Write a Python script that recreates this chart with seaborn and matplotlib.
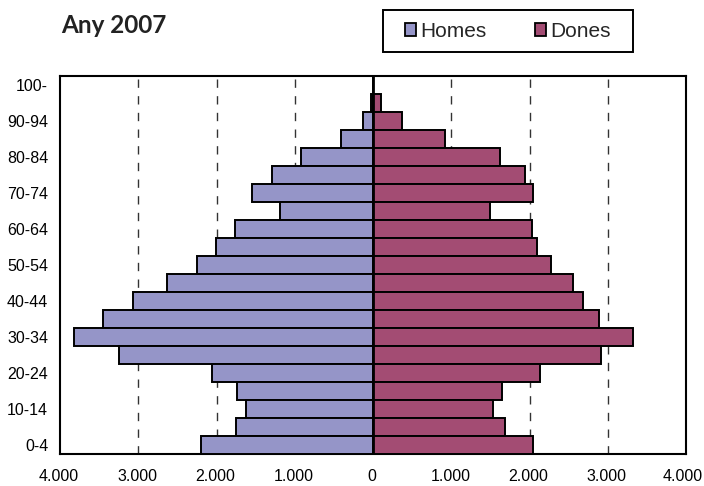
import matplotlib
matplotlib.use("Agg")
import matplotlib.pyplot as plt
import matplotlib.transforms as mtransforms
from matplotlib import font_manager as fm
import seaborn as sns
import pandas as pd
from matplotlib.patches import Patch, Rectangle
from matplotlib.ticker import FuncFormatter

ages = ["0-4", "5-9", "10-14", "15-19", "20-24", "25-29", "30-34", "35-39",
        "40-44", "45-49", "50-54", "55-59", "60-64", "65-69", "70-74",
        "75-79", "80-84", "85-89", "90-94", "95-99", "100-"]
homes = [2199, 1756, 1628, 1734, 2059, 3252, 3819, 3448, 3073, 2629, 2246,
         2003, 1765, 1184, 1542, 1286, 921, 409, 128, 30, 5]
dones = [2051, 1688, 1535, 1650, 2136, 2912, 3317, 2890, 2681, 2562, 2276,
         2093, 2029, 1496, 2042, 1940, 1624, 926, 371, 107, 5]
series = ["Homes", "Dones"]
title = "Any 2007"

df = pd.DataFrame({
    "age": ages * 2,
    "value": [-v for v in homes] + dones,
    "sex": ["Homes"] * len(ages) + ["Dones"] * len(ages),
})

sns.set_style("white")
plt.rcParams["font.family"] = ["Liberation Sans", "DejaVu Sans"]

# choose a bold humanist font file for the title (static bold face only)
title_prop = None
for cand, size in [("Source Sans Pro", 19), ("Source Sans 3", 19), ("Lato", 17.5),
                   ("Noto Sans", 16.5)]:
    files = [f for f in fm.fontManager.ttflist
             if f.name == cand and f.weight == 700 and f.style == "normal"
             and f.stretch == "normal"]
    if files:
        title_prop = fm.FontProperties(fname=files[0].fname, size=size)
        break
if title_prop is None:
    title_prop = fm.FontProperties(family="Liberation Sans", weight="bold", size=15.5)

colors = {"Homes": "#9595C8", "Dones": "#A34C73"}

W, H = 704, 486
fig = plt.figure(figsize=(W / 100, H / 100), dpi=100)
ax = fig.add_axes([60 / W, 1 - 453.5 / H, (686 - 60) / W, (453.5 - 76) / H])

order = ages[::-1]
sns.barplot(data=df, x="value", y="age", hue="sex", order=order,
            hue_order=series, palette=colors, dodge=False, width=1.0,
            orient="h", edgecolor="black", linewidth=1.4, legend=False,
            saturation=1, ax=ax, zorder=3)

ax.set_xlim(-4000, 4000)
ax.set_ylim(len(ages) - 0.5, -0.5)
ax.set_xticks([-4000, -3000, -2000, -1000, 0, 1000, 2000, 3000, 4000])
ax.xaxis.set_major_formatter(FuncFormatter(lambda v, p: f"{abs(int(v)):,}".replace(",", ".")))
ax.set_yticks(range(len(order)))
ax.set_yticklabels([a if (len(ages) - 1 - i) % 2 == 0 else "" for i, a in enumerate(order)])
ax.tick_params(axis="both", length=0, labelsize=11.5, colors="black")
ax.tick_params(axis="x", pad=11)
ax.tick_params(axis="y", pad=8.5)
ax.set_xlabel("")
ax.set_ylabel("")

xlabels = ax.get_xticklabels()
for i, lab in enumerate(xlabels):
    dx = -3 if i == len(xlabels) - 1 else -1
    lab.set_transform(lab.get_transform() + mtransforms.ScaledTranslation(dx / 100, 0, fig.dpi_scale_trans))

for g in [-3000, -2000, -1000, 1000, 2000, 3000]:
    ax.axvline(g, color="#333333", lw=1.0, ls=(0, (6, 6)), zorder=1)
ax.axvline(0, color="black", lw=2.0, zorder=4)

for s in ax.spines.values():
    s.set_visible(True)
    s.set_color("black")
    s.set_linewidth(1.5)

fig.text(61.5 / W, 1 - 33.3 / H, title, fontproperties=title_prop,
         color="#222222", va="baseline", ha="left")

# legend box
fig.add_artist(Rectangle((382.7 / W, 1 - 52.3 / H), 250 / W, 42.3 / H,
                         transform=fig.transFigure, facecolor="white",
                         edgecolor="black", lw=1.4))
handles = [Patch(facecolor=colors[s], edgecolor="black", lw=1.3, label=s) for s in series]
leg = fig.legend(handles=handles, loc="center", bbox_to_anchor=(507.7 / W, 1 - 31.5 / H),
                 ncol=2, frameon=False,
                 prop={"family": ["Liberation Sans", "DejaVu Sans"], "size": 15},
                 handlelength=0.57, handleheight=0.57, handletextpad=0.19,
                 columnspacing=2.3, borderpad=0.0)

fig.savefig("out.png", dpi=100)
